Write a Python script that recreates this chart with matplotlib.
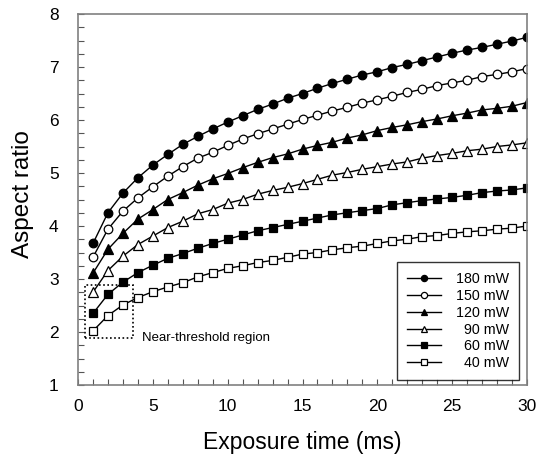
import matplotlib
matplotlib.use("Agg")
import matplotlib.pyplot as plt
from matplotlib.ticker import MultipleLocator
from matplotlib.patches import Rectangle

plt.rcParams['font.family'] = ['Liberation Sans', 'DejaVu Sans']

exposure_ms = list(range(1, 31))
labels = ["180 mW", "150 mW", "120 mW", "  90 mW", "  60 mW", "  40 mW"]

ar_180 = [3.67, 4.25, 4.62, 4.91, 5.15, 5.35, 5.54, 5.69, 5.83, 5.96,
          6.08, 6.20, 6.30, 6.41, 6.50, 6.60, 6.69, 6.77, 6.85, 6.91,
          6.99, 7.05, 7.12, 7.19, 7.26, 7.32, 7.37, 7.43, 7.49, 7.56]
ar_150 = [3.41, 3.94, 4.28, 4.53, 4.74, 4.94, 5.12, 5.28, 5.39, 5.52,
          5.64, 5.74, 5.83, 5.92, 6.01, 6.09, 6.17, 6.24, 6.32, 6.38,
          6.45, 6.52, 6.58, 6.65, 6.70, 6.75, 6.82, 6.86, 6.91, 6.97]
ar_120 = [3.11, 3.56, 3.86, 4.13, 4.31, 4.50, 4.63, 4.77, 4.89, 4.99,
          5.10, 5.20, 5.29, 5.36, 5.45, 5.52, 5.58, 5.66, 5.72, 5.80,
          5.86, 5.91, 5.97, 6.02, 6.08, 6.13, 6.19, 6.22, 6.26, 6.33]
ar_90 = [2.75, 3.16, 3.43, 3.65, 3.81, 3.97, 4.09, 4.23, 4.31, 4.43,
         4.50, 4.60, 4.67, 4.73, 4.80, 4.88, 4.96, 5.01, 5.07, 5.12,
         5.17, 5.21, 5.28, 5.33, 5.37, 5.42, 5.45, 5.50, 5.53, 5.57]
ar_60 = [2.35, 2.71, 2.94, 3.12, 3.26, 3.39, 3.48, 3.58, 3.67, 3.75,
         3.83, 3.91, 3.97, 4.03, 4.09, 4.15, 4.21, 4.25, 4.29, 4.33,
         4.40, 4.44, 4.48, 4.51, 4.54, 4.58, 4.63, 4.66, 4.68, 4.72]
ar_40 = [2.02, 2.31, 2.51, 2.65, 2.76, 2.85, 2.93, 3.04, 3.12, 3.20,
         3.25, 3.31, 3.35, 3.41, 3.47, 3.50, 3.55, 3.59, 3.62, 3.67,
         3.72, 3.75, 3.80, 3.82, 3.86, 3.89, 3.91, 3.94, 3.96, 4.00]

series = [ar_180, ar_150, ar_120, ar_90, ar_60, ar_40]
markers = ['o', 'o', '^', '^', 's', 's']
filled = [True, False, True, False, True, False]

fig = plt.figure(figsize=(5.36, 4.63), dpi=100)
ax = fig.add_axes([78/536, 1 - 385/463, (527-78)/536, (385-14)/463])

for vals, m, f, lab in zip(series, markers, filled, labels):
    ax.plot(exposure_ms, vals, color='black', lw=1.0, marker=m,
            markersize=6.2 if m != '^' else 6.8,
            markerfacecolor='black' if f else 'white',
            markeredgecolor='black', markeredgewidth=0.9, label=lab)

ax.set_xlim(0, 30)
ax.set_ylim(1, 8)
ax.xaxis.set_major_locator(MultipleLocator(5))
ax.xaxis.set_minor_locator(MultipleLocator(1))
ax.yaxis.set_major_locator(MultipleLocator(1))
ax.yaxis.set_minor_locator(MultipleLocator(0.25))
ax.tick_params(which='both', direction='in', length=4, width=0.8, color='#555555')
ax.tick_params(axis='x', which='major', labelsize=12.5, pad=10)
ax.tick_params(axis='y', which='major', labelsize=12.5, pad=14)
for s in ax.spines.values():
    s.set_color('#808080')
    s.set_linewidth(1.2)

ax.set_xlabel('Exposure time (ms)', fontsize=16.5, labelpad=12)
ax.set_ylabel('Aspect ratio', fontsize=17.5)
ax.yaxis.set_label_coords(-0.098, 0.515)

ax.add_patch(Rectangle((0.47, 1.88), 3.18, 1.01, fill=False, ls=(0, (1, 1.5)),
                       lw=1.2, edgecolor='black', zorder=5))
ax.text(4.25, 1.89, 'Near-threshold region', fontsize=9.5, va='center', ha='left')

leg = ax.legend(loc='upper left', bbox_to_anchor=((397-78)/449, (385-262)/371),
                fontsize=10.3, frameon=True, fancybox=False, edgecolor='black',
                handlelength=2.4, handletextpad=1.0, labelspacing=0.2,
                borderpad=0.7, borderaxespad=0.0, markerscale=0.72)
leg.get_frame().set_linewidth(1.0)

fig.savefig('out.png', dpi=100)
